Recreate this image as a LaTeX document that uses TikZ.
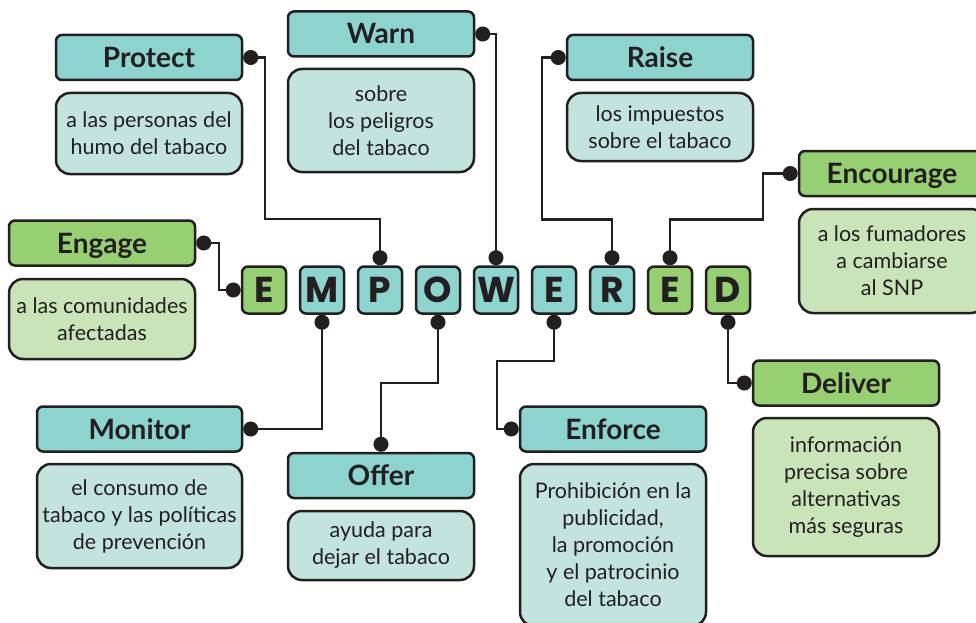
\documentclass[tikz,border=0pt]{standalone}
\usepackage{fontspec}
\setmainfont{Lato}
\newfontfamily\letterfont{Poppins}
\usetikzlibrary{arrows.meta}

\definecolor{ink}{HTML}{231F20}
\definecolor{headteal}{HTML}{8DD3CE}
\definecolor{bodyteal}{HTML}{C3E3DF}
\definecolor{headgreen}{HTML}{97CF73}
\definecolor{bodygreen}{HTML}{C9E4B9}

\begin{document}
\begin{tikzpicture}[x=1pt, y=-1pt]

    \tikzset{head/.style={%
      draw=ink,%
      line width=2.5pt,%
      rounded corners=6pt,%
      minimum width=186pt,%
      minimum height=45pt,%
      inner sep=0pt,%
      text height=20pt,%
      text depth=0pt,%
      text=ink,%
      font=\fontsize{28}{32}\selectfont\bfseries}%
    };
    \tikzset{tealhead/.style={head, fill=headteal}};
    \tikzset{greenhead/.style={head, fill=headgreen}};

    \tikzset{body/.style={%
      draw=ink,%
      line width=2.5pt,%
      rounded corners=14pt,%
      minimum width=186pt,%
      inner sep=0pt,%
      align=center,%
      text=ink,%
      font=\fontsize{21.5}{27}\selectfont}%
    };
    \tikzset{tealbody/.style={body, fill=bodyteal}};
    \tikzset{greenbody/.style={body, fill=bodygreen}};

    \tikzset{letter/.style={%
      draw=ink,%
      line width=2.5pt,%
      rounded corners=6pt,%
      minimum width=44pt,%
      minimum height=47pt,%
      inner sep=0pt,%
      text height=25pt,%
      text depth=0pt,%
      text=ink,%
      font=\letterfont\bfseries\fontsize{36}{36}\selectfont}%
    };
    \tikzset{tealletter/.style={letter, fill=headteal}};
    \tikzset{greenletter/.style={letter, fill=headgreen}};

    \tikzset{link/.style={draw=ink, line width=2.2pt,%
      {Circle[length=15pt]}-{Circle[length=15pt]}}};

    \useasboundingbox[fill=white] (0,0) rectangle (976,623);

    %%%%%%%%%%%%%%%
    %  empowered  %
    %%%%%%%%%%%%%%%
    \node[greenletter] (e1) at (264,290) {E};
    \node[tealletter]  (m)  at (322,290) {M};
    \node[tealletter]  (p)  at (380,290) {P};
    \node[tealletter]  (o)  at (438,290) {O};
    \node[tealletter]  (w)  at (496,290) {W};
    \node[tealletter]  (e2) at (554,290) {E};
    \node[tealletter]  (r)  at (612,290) {R};
    \node[greenletter] (e3) at (670,290) {E};
    \node[greenletter] (d)  at (728,290) {D};

    %%%%%%%%%%%%%%%
    %  top row    %
    %%%%%%%%%%%%%%%
    \node[tealhead] (protect) at (149,57.5) {Protect};
    \node[tealbody, minimum height=81pt] (protecttxt) at (149,133.5)
      {a las personas del\\humo del tabaco};

    \node[tealhead] (warn) at (381,34) {Warn};
    \node[tealbody, minimum height=103pt] (warntxt) at (381,120.5)
      {sobre\\los peligros\\del tabaco};

    \node[tealhead] (raise) at (660,57.5) {Raise};
    \node[tealbody, minimum height=68pt] (raisetxt) at (660,127)
      {los impuestos\\sobre el tabaco};

    \node[greenhead] (encourage) at (892,173.5) {Encourage};
    \node[greenbody, minimum height=104pt] (encouragetxt) at (892,261)
      {a los fumadores\\a cambiarse\\al SNP};

    \node[greenhead] (engage) at (102,243) {Engage};
    \node[greenbody, minimum height=80pt] (engagetxt) at (102,319)
      {a las comunidades\\afectadas};

    %%%%%%%%%%%%%%%
    %  bottom row %
    %%%%%%%%%%%%%%%
    \node[tealhead, minimum width=205pt] (monitor) at (139.5,429) {Monitor};
    \node[tealbody, minimum width=205pt, minimum height=104pt] (monitortxt) at (139.5,516)
      {el consumo de\\tabaco y las políticas\\de prevención};

    \node[tealhead] (offer) at (381,475.5) {Offer};
    \node[tealbody, minimum height=69pt] (offertxt) at (381,545.5)
      {ayuda para\\dejar el tabaco};

    \node[tealhead] (enforce) at (613,429) {Enforce};
    \node[tealbody, minimum height=162pt] (enforcetxt) at (613,545)
      {Prohibición en la\\publicidad,\\la promoción\\y el patrocinio\\del tabaco};

    \node[greenhead] (deliver) at (846,383) {Deliver};
    \node[greenbody, minimum height=138pt] (delivertxt) at (846,487)
      {información\\precisa sobre\\alternativas\\más seguras};

    %%%%%%%%%%%%%%%
    %  links      %
    %%%%%%%%%%%%%%%
    \draw[link] (protect.east) -| ++(22,161.5) -| (p.north);
    \draw[link] (warn.east) -| (w.north);
    \draw[link] (raise.west) -| ++(-24,162) -| (r.north);
    \draw[link] (encourage.west) -| ++(-35,46) -| (e3.north);
    \draw[link] (engage.east) -- ++(23,0) |- (e1.west);
    \draw[link] (m.south) |- (monitor.east);
    \draw[link] (o.south) |- ++(-58,68) -| (offer.north);
    \draw[link] (e2.south) |- ++(-57,46) |- (enforce.west);
    \draw[link] (d.south) |- (deliver.west);

\end{tikzpicture}
\end{document}
